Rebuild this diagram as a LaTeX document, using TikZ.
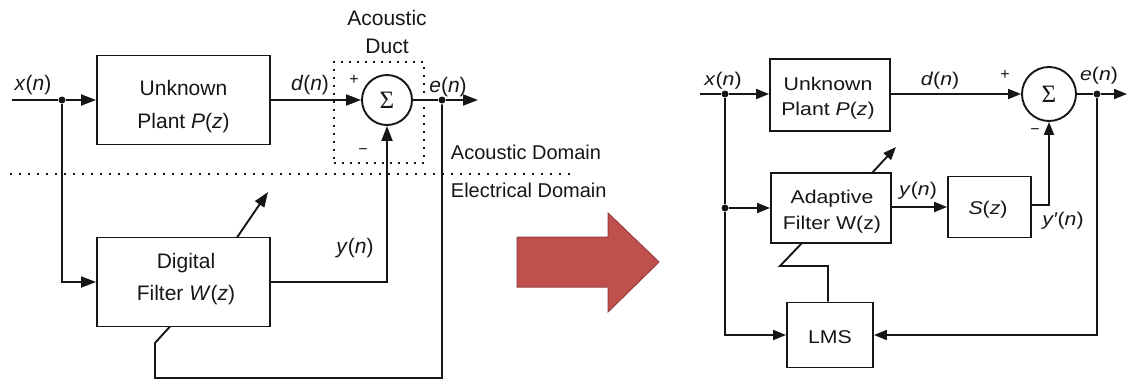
\documentclass[tikz,border=0pt]{standalone}
\usepackage{fontspec}
\setmainfont{Liberation Sans}
\newfontfamily\rfont{Liberation Sans}[FakeStretch=1.15]
\newfontfamily\sigfont{Liberation Serif}
\usetikzlibrary{arrows.meta}
\definecolor{ink}{HTML}{161616}
\definecolor{redfill}{HTML}{C0504D}
\definecolor{redline}{HTML}{9A3D3B}
\begin{document}
\begin{tikzpicture}[x=1pt,y=-1pt, line width=1.9pt, color=ink,
  lfont/.style={font=\fontsize{21}{33}\selectfont},
  rfnt/.style={font=\rfont\fontsize{18.5}{26}\selectfont},
  lbox/.style={draw, rectangle, minimum width=173pt, minimum height=89pt, inner sep=0pt},
  rbox/.style={draw, rectangle, inner sep=0pt},
  sumnode/.style={draw, circle, inner sep=0pt, font=\sigfont\fontsize{25}{25}\selectfont},
  arr/.style={-{Triangle[length=15pt,width=11pt]}},
  rarr/.style={-{Triangle[length=13pt,width=10pt]}},
  jdot/.style={circle, fill=ink, inner sep=0pt, minimum size=7pt},
  lab/.style={anchor=base, inner sep=0pt},
  sign/.style={inner sep=0pt, font=\fontsize{16}{16}\selectfont}
]
\useasboundingbox (0,0) rectangle (1127,381);

% ---------------- left diagram ----------------
\node[lbox] (P1) at (183.5,100) {};
\node[lab, lfont] (P1a) at (183.5,95) {Unknown};
\node[lab, lfont] (P1b) at (183.5,128) {Plant \textit{P}(\textit{z})};
\node[lbox] (W1) at (183.5,282) {};
\node[lab, lfont] (W1a) at (186,268) {Digital};
\node[lab, lfont] (W1b) at (186,300) {Filter \textit{W}(\textit{z})};
\node[sumnode, minimum size=50pt] (S1) at (387,100) {Σ};
\node[draw, line width=1.6pt, dash pattern=on 2pt off 6pt, minimum width=90pt, minimum height=101pt, inner sep=0pt] (duct) at (379,112.5) {};
\coordinate (in1) at (12,100);
\node[jdot] (j1) at (62,100) {};
\node[jdot] (e1) at (442,100) {};
\coordinate (out1) at (478,100);
\coordinate (fba) at (442,378);
\coordinate (fbb) at (155,378);
\coordinate (fbc) at (155,343);
\coordinate (fbd) at (170,326.5);
\coordinate (ad1a) at (237,237.5);
\coordinate (ad1b) at (268,192);

\draw (in1) -- (j1);
\draw[arr] (j1) -- (P1.west);
\draw[arr] (P1.east) -- (S1.west);
\draw (S1.east) -- (e1);
\draw[arr] (e1) -- (out1);
\draw[arr] (j1) |- (W1.west);
\draw[arr] (W1.east) -| (S1.south);
\draw (e1) -- (fba) -- (fbb) -- (fbc) -- (fbd);
\draw[arr] (ad1a) -- (ad1b);

\node[lab, lfont] (lx1) at (33,90) {\textit{x}(\textit{n})};
\node[lab, lfont] (ld1) at (310,90) {\textit{d}(\textit{n})};
\node[lab, lfont] (le1) at (448,92) {\textit{e}(\textit{n})};
\node[lab, lfont] (ly1) at (355,253) {\textit{y}(\textit{n})};
\node[lab, lfont] (lac) at (387,25) {Acoustic};
\node[lab, lfont] (ldu) at (387,53) {Duct};
\node[sign] (pl1) at (354,80) {+};
\node[sign] (mi1) at (363,152) {−};

\draw[line width=1.6pt, dash pattern=on 1.5pt off 7.5pt] (10,174) -- (573,174);
\node[anchor=base west, inner sep=0pt, font=\fontsize{20}{20}\selectfont] (adom) at (450,159) {Acoustic Domain};
\node[anchor=base west, inner sep=0pt, font=\fontsize{20}{20}\selectfont] (edom) at (450,197) {Electrical Domain};

% ---------------- big arrow ----------------
\filldraw[fill=redfill, draw=redline, line width=1pt] (517,237) -- (608,237) -- (608,213) -- (659,262) -- (608,312) -- (608,287) -- (517,287) -- cycle;

% ---------------- right diagram ----------------
\node[rbox, minimum width=120pt, minimum height=72pt] (P2) at (830,95) {};
\node[lab, rfnt] (P2a) at (828,90) {Unknown};
\node[lab, rfnt] (P2b) at (828,115) {Plant \textit{P}(\textit{z})};
\node[rbox, minimum width=120pt, minimum height=70pt] (W2) at (831,208) {};
\node[lab, rfnt] (W2a) at (832,203) {Adaptive};
\node[lab, rfnt] (W2b) at (832,229) {Filter W(z)};
\node[rbox, minimum width=83pt, minimum height=61pt] (Sz) at (989.5,207) {};
\node[lab, rfnt] (Szt) at (988,214) {\textit{S}(\textit{z})};
\node[rbox, minimum width=86pt, minimum height=65pt] (LMS) at (830,335) {};
\node[lab, rfnt] (LMSt) at (830,343) {LMS};
\node[sumnode, minimum size=54pt] (S2) at (1049,94) {Σ};
\coordinate (in2) at (700,94);
\node[jdot] (j2) at (725,94) {};
\node[jdot] (j3) at (725,208) {};
\node[jdot] (e2) at (1097,94) {};
\coordinate (out2) at (1127,94);
\coordinate (lma) at (828,266);
\coordinate (lmb) at (780,266);
\coordinate (lmc) at (802,243);
\coordinate (ad2a) at (872,173);
\coordinate (ad2b) at (896,147);
\coordinate (szo) at (1052,205);

\draw (in2) -- (j2);
\draw[rarr] (j2) -- (P2.west |- j2);
\draw[rarr] (P2.east |- j2) -- (S2.west);
\draw (S2.east) -- (e2);
\draw[rarr] (e2) -- (out2);
\draw (j2) -- (j3);
\draw[rarr] (j3) -- (W2.west);
\draw[rarr] (j3) |- (LMS.west);
\draw[rarr] (W2.east |- Sz.west) -- (Sz.west);
\draw[rarr] (Sz.east |- szo) -| (S2.south);
\draw[rarr] (e2) |- (LMS.east);
\draw (LMS.north -| lma) -- (lma) -- (lmb) -- (lmc);
\draw[rarr] (ad2a) -- (ad2b);

\node[lab, rfnt] (rx) at (723,85) {\textit{x}(\textit{n})};
\node[lab, rfnt] (rd) at (940,85) {\textit{d}(\textit{n})};
\node[lab, rfnt] (re) at (1099,80) {\textit{e}(\textit{n})};
\node[lab, rfnt] (ry) at (918,195) {\textit{y}(\textit{n})};
\node[lab, rfnt] (ryp) at (1063,225) {\textit{y′}(\textit{n})};
\node[sign] (pl2) at (1005,75) {+};
\node[sign] (mi2) at (1035,132) {−};
\end{tikzpicture}
\end{document}
